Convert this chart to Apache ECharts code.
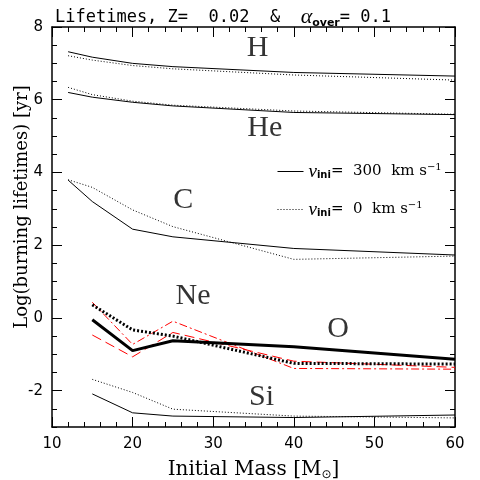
<!DOCTYPE html>
<html>
<head>
<meta charset="utf-8">
<script src="https://cdn.jsdelivr.net/npm/echarts@6/dist/echarts.min.js"></script>
<style>
  html, body { margin: 0; padding: 0; background: #fff; }
  #drew { width: 480px; height: 480px; }
</style>
</head>
<body>
<div id="drew"></div>
<script>
   // masses (Msun)
   var massesEarly = [12, 15, 20, 25, 40, 60];
   var massesLate = [15, 20, 25, 40, 60];

   // log lifetimes, thin solid = v 300, thin dotted = v 0
   var hRot = [7.32, 7.17, 7.00, 6.91, 6.75, 6.65];
   var hNoRot = [7.21, 7.09, 6.94, 6.85, 6.68, 6.54];
   var heRot = [6.20, 6.07, 5.93, 5.83, 5.65, 5.59];
   var heNoRot = [6.34, 6.14, 5.96, 5.85, 5.69, 5.60];
   var cRot = [3.79, 3.20, 2.44, 2.23, 1.91, 1.73];
   var cNoRot = [3.80, 3.59, 2.97, 2.51, 1.61, 1.70];
   var oRot = [-0.05, -0.90, -0.63, -0.79, -1.14];
   var oNoRot = [0.36, -0.33, -0.50, -1.25, -1.27];
   var neRot = [-0.47, -1.07, -0.40, -1.19, -1.36];
   var neNoRot = [0.43, -0.73, -0.09, -1.39, -1.41];
   var siRot = [-2.09, -2.61, -2.70, -2.74, -2.67];
   var siNoRot = [-1.69, -2.05, -2.51, -2.70, -2.75];

   // phase labels (name, mass, log t)
   var phaseNames = ['H', 'He', 'C', 'Ne', 'O', 'Si'];
   var phaseX = [35.5, 36.4, 26.3, 27.5, 45.5, 36.0];
   var phaseY = [7.42, 5.22, 3.25, 0.60, -0.32, -2.18];

   var yTicks = [-2, 0, 2, 4, 6, 8];

   function pairs(xs, ys) {
       return xs.map(function (x, i) { return [x, ys[i]]; });
   }

   function line(name, xs, ys, color, width, type) {
       return {
           name: name,
           type: 'line',
           data: pairs(xs, ys),
           symbol: 'none',
           silent: true,
           color: color,
           lineStyle: { color: color, width: width, type: type }
       };
   }

   var serif = 'Liberation Serif';
   var axisLine = { show: true, onZero: false, lineStyle: { color: '#000', width: 1.5 } };

   var myChart = echarts.init(document.getElementById('drew'));
   var option = {
       animation: false,
       backgroundColor: '#fff',
       title: {
           text: 'Lifetimes, Z=  0.02  &  {a|α}{s|over}= 0.1',
           left: 50,
           top: 1,
           textStyle: {
               fontFamily: 'DejaVu Sans Mono',
               fontSize: 17,
               fontWeight: 'normal',
               color: '#000',
               rich: {
                   a: { fontFamily: serif, fontStyle: 'italic', fontSize: 22, color: '#000' },
                   s: { fontFamily: 'DejaVu Sans', fontSize: 11, fontWeight: 'bold', color: '#000', padding: [12, 0, 0, 0] }
               }
           }
       },
       legend: {
           data: ['v300', 'v0'],
           orient: 'vertical',
           left: 272,
           top: 157,
           itemWidth: 26,
           itemHeight: 12,
           itemGap: 19,
           itemStyle: { opacity: 0 },
           lineStyle: { width: 1 },
           formatter: function (n) {
               var v = n === 'v300' ? '300' : '0';
               return '{v|v}{sub|ini}{t|=  ' + v + '  km s}{sup|−1}';
           },
           textStyle: {
               rich: {
                   v: { fontFamily: serif, fontStyle: 'italic', fontSize: 19, color: '#000' },
                   sub: { fontFamily: 'DejaVu Sans', fontWeight: 'bold', fontSize: 10, color: '#000', padding: [8, 0, 0, 0] },
                   t: { fontFamily: 'DejaVu Serif', fontSize: 15, color: '#000' },
                   sup: { fontFamily: 'DejaVu Serif', fontSize: 10, color: '#000', padding: [0, 0, 8, 0] }
               }
           }
       },
       grid: { left: 52, right: 25, top: 27, bottom: 53, outerBoundsMode: 'none', containLabel: false },
       xAxis: [{
           type: 'value', position: 'bottom', min: 10, max: 60, interval: 10,
           name: 'Initial Mass [M{s|⊙}]',
           nameLocation: 'middle', nameGap: 32, nameMoveOverlap: false,
           nameTextStyle: {
               fontFamily: 'DejaVu Serif', fontSize: 20, color: '#000',
               rich: { s: { fontFamily: 'DejaVu Sans', fontSize: 12, color: '#000', padding: [10, 0, 0, 0] } }
           },
           axisLine: axisLine,
           axisTick: { inside: true, length: 10, lineStyle: { color: '#000' } },
           minorTick: { show: true, splitNumber: 5, length: 5, lineStyle: { color: '#000' } },
           axisLabel: { fontFamily: 'DejaVu Sans', fontSize: 15, color: '#000', margin: 10 },
           splitLine: { show: false }
       }, {
           type: 'value', position: 'top', min: 10, max: 60, interval: 10,
           axisLine: axisLine,
           axisTick: { inside: true, length: 10, lineStyle: { color: '#000' } },
           minorTick: { show: true, splitNumber: 5, length: 5, lineStyle: { color: '#000' } },
           axisLabel: { show: false },
           splitLine: { show: false }
       }],
       yAxis: [{
           type: 'value', position: 'left', min: -3, max: 8,
           name: 'Log(burning lifetimes) [yr]',
           nameLocation: 'middle', nameGap: 21, nameMoveOverlap: false,
           nameTextStyle: { fontFamily: 'DejaVu Serif', fontSize: 18, color: '#000', padding: [0, 0, 0, 40] },
           axisLine: axisLine,
           axisTick: { inside: true, length: 10, customValues: yTicks, lineStyle: { color: '#000' } },
           axisLabel: { customValues: yTicks, fontFamily: 'DejaVu Sans', fontSize: 15, color: '#000', margin: 9 },
           splitLine: { show: false }
       }, {
           type: 'value', position: 'left', min: -3, max: 8, interval: 0.5,
           axisLine: { show: false, onZero: false },
           axisTick: { inside: true, length: 5, lineStyle: { color: '#000' } },
           axisLabel: { show: false },
           splitLine: { show: false }
       }, {
           type: 'value', position: 'right', min: -3, max: 8,
           axisLine: axisLine,
           axisTick: { inside: true, length: 10, customValues: yTicks, lineStyle: { color: '#000' } },
           axisLabel: { show: false },
           splitLine: { show: false }
       }, {
           type: 'value', position: 'right', min: -3, max: 8, interval: 0.5,
           axisLine: { show: false, onZero: false },
           axisTick: { inside: true, length: 5, lineStyle: { color: '#000' } },
           axisLabel: { show: false },
           splitLine: { show: false }
       }],
       series: [
           line('v300', massesEarly, hRot, '#000', 1, 'solid'),
           line('v0', massesEarly, hNoRot, '#000', 1, [1, 2]),
           line('v300', massesEarly, heRot, '#000', 1, 'solid'),
           line('v0', massesEarly, heNoRot, '#000', 1, [1, 2]),
           line('v300', massesEarly, cRot, '#000', 1, 'solid'),
           line('v0', massesEarly, cNoRot, '#000', 1, [1, 2]),
           line('neRot', massesLate, neRot, '#ff0000', 1, [10, 5]),
           line('neNoRot', massesLate, neNoRot, '#ff0000', 1, [8, 3, 2, 3]),
           line('oNoRot', massesLate, oNoRot, '#000', 3, [2, 2]),
           line('oRot', massesLate, oRot, '#000', 3, 'solid'),
           line('v300', massesLate, siRot, '#000', 1, 'solid'),
           line('v0', massesLate, siNoRot, '#000', 1, [1, 2]),
           {
               name: 'labels',
               type: 'scatter',
               symbolSize: 0,
               silent: true,
               data: phaseNames.map(function (n, i) { return { name: n, value: [phaseX[i], phaseY[i]] }; }),
               label: {
                   show: true,
                   position: 'inside',
                   formatter: '{b}',
                   fontFamily: serif,
                   fontSize: 30,
                   color: '#000'
               }
           }
       ]
   };
   myChart.setOption(option);
</script>
</body>
</html>
